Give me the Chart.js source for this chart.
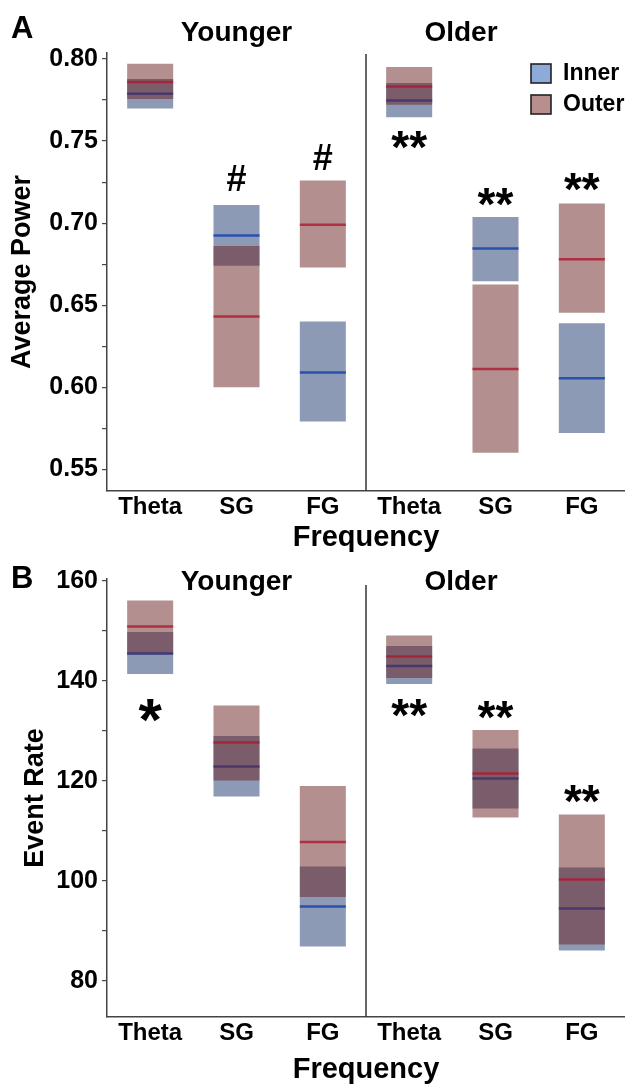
<!DOCTYPE html>
<html><head><meta charset="utf-8">
<script src="https://cdn.jsdelivr.net/npm/chart.js@4.4.1/dist/chart.umd.min.js"></script>
<style>
html,body{margin:0;padding:0;background:#fff;}
#wrap{position:relative;width:625px;height:1090px;overflow:hidden;}
#wrapA{position:absolute;left:0;top:0;width:625px;height:560px;}
#wrapB{position:absolute;left:0;top:560px;width:625px;height:530px;}
</style></head><body>
<div id="wrap"><div id="wrapA"><canvas id="chartA"></canvas></div><div id="wrapB"><canvas id="chartB"></canvas></div></div>
<script>
// ---------- data ----------
const categories = ['Theta', 'SG', 'FG', 'Theta', 'SG', 'FG'];
const groups = ['Younger', 'Older'];
const seriesNames = ['Inner', 'Outer'];

// Panel A: Average Power
const powerInnerLow  = [0.7699, 0.674, 0.579, 0.7646, 0.6646, 0.572];
const powerInnerHigh = [0.7878, 0.711, 0.640, 0.7854, 0.7038, 0.639];
const powerInnerMed  = [0.7788, 0.6925, 0.609, 0.7748, 0.6846, 0.6055];
const powerOuterLow  = [0.7756, 0.600, 0.673, 0.7721, 0.560, 0.6453];
const powerOuterHigh = [0.7971, 0.686, 0.726, 0.7951, 0.6626, 0.712];
const powerOuterMed  = [0.786, 0.643, 0.699, 0.7833, 0.611, 0.678];
const powerTicks      = [0.55, 0.575, 0.60, 0.625, 0.65, 0.675, 0.70, 0.725, 0.75, 0.775, 0.80];
const powerTickLabels = ['0.55', '', '0.60', '', '0.65', '', '0.70', '', '0.75', '', '0.80'];
const powerMarks  = ['', '#', '#', '**', '**', '**'];
const powerMarkAt = [null, 0.7276, 0.7404, 0.7508, 0.716, 0.7252];

// Panel B: Event Rate
const rateInnerLow  = [141.4, 116.9, 86.9, 139.4, 114.5, 86.1];
const rateInnerHigh = [149.8, 129.0, 102.9, 147.0, 126.5, 102.7];
const rateInnerMed  = [145.5, 122.9, 94.9, 143.0, 120.5, 94.5];
const rateOuterLow  = [145.3, 120.1, 96.8, 140.6, 112.7, 87.3];
const rateOuterHigh = [156.1, 135.1, 119.0, 149.1, 130.2, 113.3];
const rateOuterMed  = [150.9, 127.7, 107.8, 144.9, 121.5, 100.3];
const rateTicks      = [80, 90, 100, 110, 120, 130, 140, 150, 160];
const rateTickLabels = ['80', '', '100', '', '120', '', '140', '', '160'];
const rateMarks  = ['*', '', '', '**', '**', '**'];
const rateMarkAt = [134.1, null, null, 134.7, 134.3, 117.5];

// ---------- style ----------
const FONT = "'Liberation Sans', Arial, Helvetica, sans-serif";
Chart.defaults.font.family = FONT;
Chart.defaults.font.weight = 'bold';
Chart.defaults.color = '#000';

const innerFill = 'rgba(27,53,107,0.5)';
const outerFill = 'rgba(103,31,33,0.5)';
const innerLine = 'rgb(42,80,176)';
const outerLine = 'rgba(175,25,45,0.8)';

function pairs(lo, hi) { return lo.map((v, i) => [v, hi[i]]); }

function markFont(m) {
  if (m === '#') return 36;
  if (m === '*') return 60;
  return 46;
}

function decorPlugin(o) {
  return {
    id: 'decor' + o.letter,
    afterDatasetsDraw(chart) {
      const {ctx, chartArea, scales: {x, y}} = chart;
      ctx.save();
      // divider between groups
      const xd = (x.getPixelForValue(2) + x.getPixelForValue(3)) / 2;
      ctx.strokeStyle = '#333'; ctx.lineWidth = 1.5;
      ctx.beginPath(); ctx.moveTo(xd, o.dividerTop); ctx.lineTo(xd, chartArea.bottom); ctx.stroke();
      // panel letter
      ctx.fillStyle = '#000';
      ctx.textBaseline = 'middle';
      ctx.textAlign = 'left';
      ctx.font = 'bold 31px ' + FONT;
      ctx.fillText(o.letter, 11, o.letterY);
      // group titles
      ctx.textAlign = 'center';
      ctx.font = 'bold 28px ' + FONT;
      ctx.fillText(groups[0], x.getPixelForValue(1), o.titleY);
      ctx.fillText(groups[1], o.olderX, o.titleY);
      // significance marks
      o.marks.forEach((m, i) => {
        if (!m) return;
        ctx.font = 'bold ' + markFont(m) + 'px ' + FONT;
        ctx.textBaseline = 'alphabetic';
        const mt = ctx.measureText(m);
        const cy = y.getPixelForValue(o.markAt[i]);
        const by = cy + (mt.actualBoundingBoxAscent - mt.actualBoundingBoxDescent) / 2;
        ctx.fillText(m, x.getPixelForValue(i), by);
      });
      // legend
      if (o.legend) {
        const items = [[seriesNames[0], '#8eaadb', 64], [seriesNames[1], '#b98e8e', 95]];
        ctx.font = 'bold 23px ' + FONT;
        ctx.textAlign = 'left'; ctx.textBaseline = 'middle';
        items.forEach(([t, c, ty]) => {
          ctx.fillStyle = c; ctx.fillRect(531, ty, 20, 19);
          ctx.strokeStyle = '#222'; ctx.lineWidth = 1.6; ctx.strokeRect(531, ty, 20, 19);
          ctx.fillStyle = '#000'; ctx.fillText(t, 563, ty + 10);
        });
      }
      ctx.restore();
    }
  };
}

function makePanel(id, d) {
  const ds = [
    {type: 'bar', label: seriesNames[0], data: pairs(d.innerLow, d.innerHigh), backgroundColor: innerFill,
     borderWidth: 0, grouped: false, order: 4, barPercentage: 0.533, categoryPercentage: 1},
    {type: 'line', label: seriesNames[0] + ' median', data: d.innerMed, showLine: false, pointStyle: 'line',
     pointRadius: 23, pointHoverRadius: 23, pointBorderWidth: 2.5, borderColor: innerLine, order: 3},
    {type: 'bar', label: seriesNames[1], data: pairs(d.outerLow, d.outerHigh), backgroundColor: outerFill,
     borderWidth: 0, grouped: false, order: 2, barPercentage: 0.533, categoryPercentage: 1},
    {type: 'line', label: seriesNames[1] + ' median', data: d.outerMed, showLine: false, pointStyle: 'line',
     pointRadius: 23, pointHoverRadius: 23, pointBorderWidth: 2.5, borderColor: outerLine, order: 1}
  ];
  return new Chart(document.getElementById(id), {
    type: 'bar',
    data: {labels: categories, datasets: ds},
    options: {
      responsive: true, maintainAspectRatio: false, animation: false, events: [], devicePixelRatio: 1,
      layout: {autoPadding: false, padding: {top: d.padTop, left: 0, right: 0, bottom: 0}},
      plugins: {legend: {display: false}, tooltip: {enabled: false}},
      scales: {
        x: {
          type: 'category', offset: true,
          grid: {display: false, drawTicks: false},
          border: {display: true, color: '#444', width: 1.5},
          ticks: {font: {size: 24, weight: 'bold'}, color: '#000', padding: 2, maxRotation: 0, autoSkip: false},
          title: {display: true, text: 'Frequency', font: {size: 29, weight: 'bold'}, color: '#000',
                  padding: {top: 0, bottom: d.xTitlePad}},
          afterFit: (s) => { s.height = d.xHeight; }
        },
        y: {
          type: 'linear', min: d.min, max: d.max,
          grid: {display: true, drawOnChartArea: false, drawTicks: true, tickLength: 5, color: '#444', lineWidth: 1.2},
          border: {display: true, color: '#444', width: 1.5},
          afterBuildTicks: (s) => { s.ticks = d.ticks.map(v => ({value: v})); },
          ticks: {font: {size: 25, weight: 'bold'}, color: '#000', padding: 4,
                  callback: (v, i) => d.tickLabels[i]},
          title: {display: true, text: d.yTitle, font: {size: 27, weight: 'bold'}, color: '#000',
                  padding: {top: d.yTitlePad, bottom: 0}},
          afterFit: (s) => { s.width = 107; }
        }
      }
    },
    plugins: [decorPlugin(d.decor)]
  });
}

makePanel('chartA', {
  innerLow: powerInnerLow, innerHigh: powerInnerHigh, innerMed: powerInnerMed,
  outerLow: powerOuterLow, outerHigh: powerOuterHigh, outerMed: powerOuterMed,
  ticks: powerTicks, tickLabels: powerTickLabels, min: 0.5367, max: 0.8037,
  yTitle: 'Average Power', yTitlePad: 6, xTitlePad: 5, xHeight: 69, padTop: 53,
  decor: {letter: 'A', letterY: 29, titleY: 33, olderX: 461, dividerTop: 54,
          marks: powerMarks, markAt: powerMarkAt, legend: true}
});

makePanel('chartB', {
  innerLow: rateInnerLow, innerHigh: rateInnerHigh, innerMed: rateInnerMed,
  outerLow: rateOuterLow, outerHigh: rateOuterHigh, outerMed: rateOuterMed,
  ticks: rateTicks, tickLabels: rateTickLabels, min: 72.8, max: 160.4,
  yTitle: 'Event Rate', yTitlePad: 19, xTitlePad: 3, xHeight: 73, padTop: 18,
  decor: {letter: 'B', letterY: 19, titleY: 22, olderX: 461, dividerTop: 25,
          marks: rateMarks, markAt: rateMarkAt, legend: false}
});
</script>
</body></html>
